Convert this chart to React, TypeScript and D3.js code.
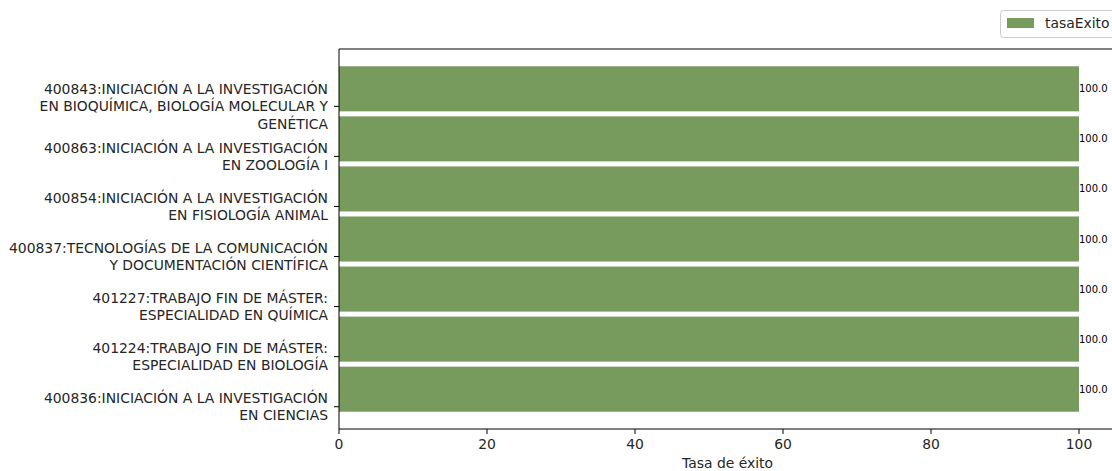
import React from "react";
import * as d3 from "d3";

const categories: string[] = [
  "400836:INICIACIÓN A LA INVESTIGACIÓN\nEN CIENCIAS",
  "401224:TRABAJO FIN DE MÁSTER:\nESPECIALIDAD EN BIOLOGÍA",
  "401227:TRABAJO FIN DE MÁSTER:\nESPECIALIDAD EN QUÍMICA",
  "400837:TECNOLOGÍAS DE LA COMUNICACIÓN\nY DOCUMENTACIÓN CIENTÍFICA",
  "400854:INICIACIÓN A LA INVESTIGACIÓN\nEN FISIOLOGÍA ANIMAL",
  "400863:INICIACIÓN A LA INVESTIGACIÓN\nEN ZOOLOGÍA I",
  "400843:INICIACIÓN A LA INVESTIGACIÓN\nEN BIOQUÍMICA, BIOLOGÍA MOLECULAR Y\nGENÉTICA",
];
const tasaExito: number[] = [100, 100, 100, 100, 100, 100, 100];
const xTicks: number[] = [0, 20, 40, 60, 80, 100];
const seriesName = "tasaExito";
const xLabel = "Tasa de éxito";

const W = 1112;
const H = 471;
const left = 339;
const top = 49;
const bottom = 429;
const color = "#779a5d";
const font = "DejaVu Sans, sans-serif";
const fs = 13.9;

export default function App() {
  const x = d3.scaleLinear().domain([0, 105]).range([left, left + 105 * 7.4]);
  const y = d3.scaleLinear().domain([-0.445, 7.145]).range([bottom, top]);
  const lineH = 17.5;
  const [x0, x1] = x.range();
  return (
    <div style={{ position: "absolute", left: 0, top: 0 }}>
      <svg width={W} height={H} style={{ display: "block", background: "#fff" }}>
        {tasaExito.map((v, i) => (
          <rect
            key={i}
            x={x(0)}
            y={y(i + 0.8)}
            width={x(v) - x(0)}
            height={y(i - 0.1) - y(i + 0.8)}
            fill={color}
          />
        ))}
        {tasaExito.map((v, i) => (
          <text
            key={"v" + i}
            x={x(v)}
            y={y(i + 0.35) + 3.5}
            fontSize={10}
            fontFamily={font}
            fill="#000"
          >
            {v.toFixed(1)}
          </text>
        ))}
        <line x1={left} x2={left} y1={top} y2={bottom} stroke="#000" strokeWidth={1} />
        <line x1={left} x2={W} y1={bottom} y2={bottom} stroke="#000" strokeWidth={1} />
        <line x1={left} x2={W} y1={top} y2={top} stroke="#000" strokeWidth={1} />
        {categories.map((c, i) => {
          const lines = c.split("\n");
          const yc = y(i);
          const start = yc - ((lines.length - 1) * lineH) / 2;
          return (
            <g key={"c" + i}>
              <line x1={left - 5} x2={left} y1={yc} y2={yc} stroke="#000" strokeWidth={1} />
              <text textAnchor="end" fontSize={fs} fontFamily={font} fill="#262626">
                {lines.map((l, j) => (
                  <tspan key={j} x={left - 11} y={start + j * lineH + 5}>
                    {l}
                  </tspan>
                ))}
              </text>
            </g>
          );
        })}
        {xTicks.map((t) => (
          <g key={"t" + t}>
            <line x1={x(t)} x2={x(t)} y1={bottom} y2={bottom + 5} stroke="#000" strokeWidth={1} />
            <text
              x={x(t)}
              y={bottom + 20}
              textAnchor="middle"
              fontSize={fs}
              fontFamily={font}
              fill="#262626"
            >
              {t}
            </text>
          </g>
        ))}
        <text
          x={(x0 + x1) / 2}
          y={468}
          textAnchor="middle"
          fontSize={fs}
          fontFamily={font}
          fill="#262626"
        >
          {xLabel}
        </text>
        <rect x={1000.5} y={10.5} width={130} height={27} rx={3} fill="#fff" stroke="#ccc" strokeWidth={1} />
        <rect x={1007} y={18} width={27} height={10} fill={color} />
        <text x={1045} y={28} fontSize={fs} fontFamily={font} fill="#262626">
          {seriesName}
        </text>
      </svg>
    </div>
  );
}
